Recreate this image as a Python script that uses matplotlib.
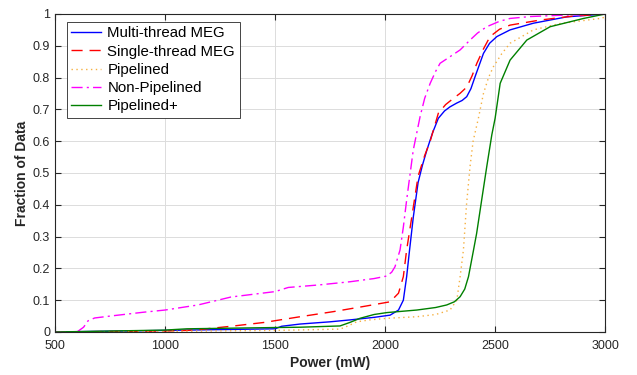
import numpy as np
import matplotlib
matplotlib.use("Agg")
import matplotlib.pyplot as plt

plt.rcParams['font.family'] = ['Liberation Sans', 'DejaVu Sans']

# Multi-thread MEG
mt_x = [500, 1000, 1500, 1530, 1614, 1750, 1841, 1950, 2023, 2061, 2083, 2098, 2110, 2128, 2150,
        2170, 2189, 2215, 2242, 2270, 2295, 2326, 2350, 2371, 2390, 2409, 2447, 2475, 2508, 2568,
        2674, 2826, 3000]
mt_y = [0, 0.005, 0.01, 0.018, 0.025, 0.032, 0.038, 0.046, 0.053, 0.069, 0.1, 0.174, 0.25, 0.36, 0.47,
        0.525, 0.57, 0.625, 0.672, 0.695, 0.708, 0.72, 0.728, 0.74, 0.765, 0.803, 0.876, 0.908, 0.929, 0.95,
        0.971, 0.991, 1.0]

# Single-thread MEG
st_x = [500, 1000, 1100, 1160, 1300, 1450, 1614, 1765, 1917, 2023, 2061, 2083, 2098, 2121, 2150,
        2180, 2205, 2242, 2275, 2311, 2340, 2371, 2395, 2417, 2447, 2477, 2520, 2568, 2705, 2850, 3000]
st_y = [0, 0.003, 0.005, 0.008, 0.018, 0.03, 0.048, 0.064, 0.082, 0.095, 0.122, 0.174, 0.258, 0.36, 0.49,
        0.555, 0.60, 0.688, 0.715, 0.735, 0.75, 0.77, 0.805, 0.845, 0.89, 0.929, 0.952, 0.965, 0.981, 0.993, 1.0]

# Pipelined
pl_x = [500, 1000, 1500, 1795, 1835, 1871, 1930, 2008, 2144, 2230, 2295, 2326, 2341, 2356, 2370,
        2386, 2400, 2424, 2447, 2470, 2492, 2530, 2568, 2674, 2795, 2977, 3000]
pl_y = [0, 0.002, 0.005, 0.009, 0.02, 0.032, 0.038, 0.043, 0.048, 0.055, 0.069, 0.1, 0.174, 0.258, 0.4,
        0.52, 0.6, 0.672, 0.75, 0.8, 0.834, 0.875, 0.908, 0.95, 0.97, 0.986, 0.99]

# Non-Pipelined
np_x = [500, 600, 630, 650, 680, 750, 900, 1000, 1150, 1300, 1500, 1560, 1700, 1841, 1950, 2008,
        2030, 2045, 2068, 2083, 2098, 2128, 2159, 2180, 2205, 2230, 2250, 2300, 2341, 2386, 2420,
        2462, 2520, 2568, 2660, 2800, 3000]
np_y = [0, 0, 0.015, 0.035, 0.044, 0.05, 0.062, 0.069, 0.085, 0.11, 0.127, 0.14, 0.148, 0.158, 0.168, 0.176,
        0.188, 0.205, 0.258, 0.33, 0.415, 0.572, 0.677, 0.735, 0.782, 0.82, 0.845, 0.868, 0.887, 0.918, 0.94,
        0.96, 0.977, 0.986, 0.992, 0.996, 1.0]

# Pipelined+
pp_x = [500, 1000, 1100, 1500, 1614, 1795, 1840, 1886, 1950, 2008, 2144, 2230, 2280, 2315, 2341,
        2362, 2379, 2402, 2416, 2440, 2462, 2485, 2500, 2523, 2568, 2644, 2750, 2902, 3000]
pp_y = [0, 0.006, 0.01, 0.014, 0.015, 0.019, 0.03, 0.043, 0.055, 0.061, 0.069, 0.077, 0.085, 0.095, 0.111,
        0.135, 0.174, 0.258, 0.31, 0.42, 0.52, 0.62, 0.672, 0.782, 0.855, 0.918, 0.96, 0.986, 1.0]

xticks = [500, 1000, 1500, 2000, 2500, 3000]
yticks = [0, 0.1, 0.2, 0.3, 0.4, 0.5, 0.6, 0.7, 0.8, 0.9, 1]
yticklabels = ['0', '0.1', '0.2', '0.3', '0.4', '0.5', '0.6', '0.7', '0.8', '0.9', '1']

fig = plt.figure(figsize=(6.37, 3.75), dpi=100)
ax = fig.add_axes([0.0863, 0.1147, 0.8637, 0.848])

ax.plot(mt_x, mt_y, color='#0000ff', lw=1.0, label='Multi-thread MEG')
ax.plot(st_x, st_y, color='#ff0000', lw=1.0, ls=(0, (8, 5)), label='Single-thread MEG')
ax.plot(pl_x, pl_y, color='#f5b040', lw=1.0, ls=(0, (1, 2.5)), label='Pipelined')
ax.plot(np_x, np_y, color='#ff00ff', lw=1.0, ls=(0, (8, 3, 1.5, 3)), label='Non-Pipelined')
ax.plot(pp_x, pp_y, color='#008000', lw=1.0, label='Pipelined+')

ax.set_xlim(500, 3000)
ax.set_ylim(0, 1)
ax.set_xticks(xticks)
ax.set_yticks(yticks)
ax.set_yticklabels(yticklabels)
ax.grid(True, color='#dcdcdc', lw=0.7)
ax.set_axisbelow(True)
ax.tick_params(direction='in', top=True, right=True, labelsize=9, colors='#262626', length=4)
ax.tick_params(axis='x', pad=6)
for s in ax.spines.values():
    s.set_color('#262626')
    s.set_linewidth(0.8)

ax.set_xlabel('Power (mW)', fontsize=10, fontweight='bold', color='#262626', labelpad=3)
ax.set_ylabel('Fraction of Data', fontsize=10, fontweight='bold', color='#262626', labelpad=3)

leg = ax.legend(loc='upper left', bbox_to_anchor=(0.0218, 0.975), borderaxespad=0,
                fontsize=10.8, handlelength=2.0, handletextpad=0.4,
                fancybox=False, framealpha=1, edgecolor='#262626', labelspacing=0.28,
                borderpad=0.3)
leg.get_frame().set_linewidth(0.6)

fig.savefig('out.png', dpi=100)
